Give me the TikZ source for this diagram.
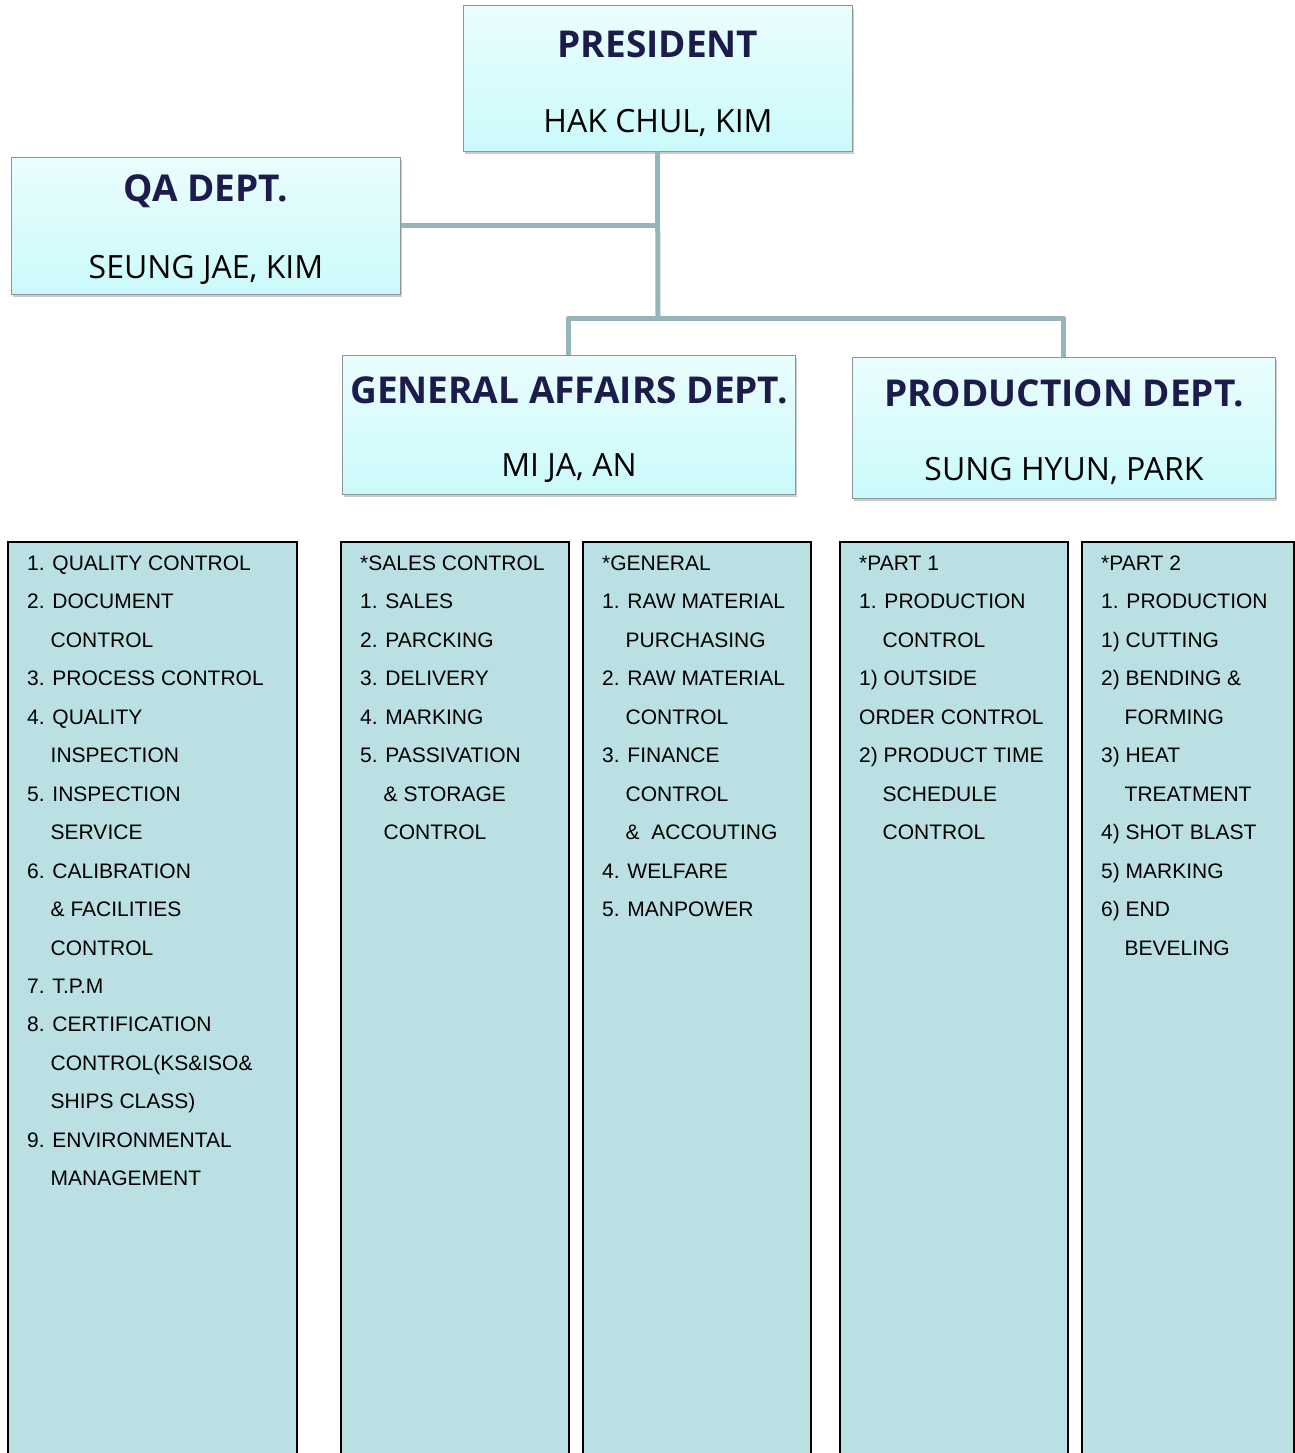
\documentclass[tikz,border=0pt]{standalone}
\usepackage{fontspec}
\setmainfont{Liberation Sans}
\newfontfamily\headfont{Open Sans}
\usetikzlibrary{shadows,calc}

\definecolor{boxtop}{HTML}{EAFDFD}
\definecolor{boxbot}{HTML}{CBFAFB}
\definecolor{boxedge}{HTML}{8A9698}
\definecolor{navy}{HTML}{1C1B4B}
\definecolor{linkcol}{HTML}{94B6B9}
\definecolor{colfill}{HTML}{BAE0E3}

\tikzset{
  x=1pt, y=-1pt,
  headbox/.style={draw=boxedge, line width=1pt, top color=boxtop, bottom color=boxbot,
    inner sep=0pt, drop shadow={shadow xshift=1.5pt, shadow yshift=-3pt, opacity=0.4}},
  title/.style={font=\headfont\bfseries\fontsize{37}{40}\selectfont, text=navy, inner sep=0pt},
  person/.style={font=\headfont\fontsize{32}{36}\selectfont, text=black, inner sep=0pt},
  link/.style={draw=linkcol, line width=5pt},
  column/.style={draw=black, line width=2pt, fill=colfill, anchor=north west, inner sep=0pt},
  item/.style={anchor=base west, inner sep=0pt, font=\fontsize{21}{24}\selectfont}
}

\begin{document}
\begin{tikzpicture}
\useasboundingbox (0,0) rectangle (1295,1453);
\clip (0,0) rectangle (1295,1453);

% management boxes
\node[headbox, minimum width=389pt, minimum height=145pt] (pres) at (657.5,78.5) {};
\node[headbox, minimum width=389pt, minimum height=137pt] (qa)   at (205.5,225.5) {};
\node[headbox, minimum width=453pt, minimum height=139pt] (ga)   at (568.5,424.5) {};
\node[headbox, minimum width=423pt, minimum height=141pt] (pd)   at (1063.5,427.5) {};

\node[title]  (presT) at (658,44)  {PRESIDENT};
\node[person] (presN) at (658,123) {HAK CHUL, KIM};
\node[title]  (qaT)   at (206,191) {QA DEPT.};
\node[person] (qaN)   at (206,270) {SEUNG JAE, KIM};
\node[title]  (gaT)   at (569,390) {GENERAL AFFAIRS DEPT.};
\node[person] (gaN)   at (569,468) {MI JA, AN};
\node[title]  (pdT)   at (1064,393) {PRODUCTION DEPT.};
\node[person] (pdN)   at (1064,471) {SUNG HYUN, PARK};

% reporting lines
\coordinate (j) at (658,318);
\draw[link] (pres.south) -- (j);
\draw[link] (qa.east) -- (qa.east -| pres.south);
\draw[link, line join=round] (ga.north) |- (j) -| (pd.north);

% duty columns
\node[column, minimum width=289pt, minimum height=950pt] (c1) at (7,541) {};
\node[column, minimum width=228pt, minimum height=950pt] (c2) at (340,541) {};
\node[column, minimum width=228pt, minimum height=950pt] (c3) at (582,541) {};
\node[column, minimum width=228pt, minimum height=950pt] (c4) at (839,541) {};
\node[column, minimum width=212pt, minimum height=950pt] (c5) at (1081,541) {};

\def\firstline{570.5}
\def\linestep{38.45}
\def\indent{23.5}

\foreach \d/\t [count=\i from 0] in {
  0/1. QUALITY CONTROL, 0/2. DOCUMENT, 1/CONTROL, 0/3. PROCESS CONTROL,
  0/4. QUALITY, 1/INSPECTION, 0/5. INSPECTION, 1/SERVICE, 0/6. CALIBRATION,
  1/\& FACILITIES, 1/CONTROL, 0/7. T.P.M, 0/8. CERTIFICATION,
  1/CONTROL(KS\&ISO\&, 1/SHIPS CLASS), 0/9. ENVIRONMENTAL, 1/MANAGEMENT}
  \node[item] (a\i) at ($(c1.north west)+(20+\indent*\d,\firstline-541+\linestep*\i)$) {\t};

\foreach \d/\t [count=\i from 0] in {
  0/*SALES CONTROL, 0/1. SALES, 0/2. PARCKING, 0/3. DELIVERY, 0/4. MARKING,
  0/5. PASSIVATION, 1/\& STORAGE, 1/CONTROL}
  \node[item] (b\i) at ($(c2.north west)+(20+\indent*\d,\firstline-541+\linestep*\i)$) {\t};

\foreach \d/\t [count=\i from 0] in {
  0/*GENERAL, 0/1. RAW MATERIAL, 1/PURCHASING, 0/2. RAW MATERIAL, 1/CONTROL,
  0/3. FINANCE, 1/CONTROL, 1/\&\ \ ACCOUTING, 0/4. WELFARE, 0/5. MANPOWER}
  \node[item] (g\i) at ($(c3.north west)+(20+\indent*\d,\firstline-541+\linestep*\i)$) {\t};

\foreach \d/\t [count=\i from 0] in {
  0/*PART 1, 0/1. PRODUCTION, 1/CONTROL, 0/1) OUTSIDE, 0/ORDER CONTROL,
  0/2) PRODUCT TIME, 1/SCHEDULE, 1/CONTROL}
  \node[item] (p\i) at ($(c4.north west)+(20+\indent*\d,\firstline-541+\linestep*\i)$) {\t};

\foreach \d/\t [count=\i from 0] in {
  0/*PART 2, 0/1. PRODUCTION, 0/1) CUTTING, 0/2) BENDING \&, 1/FORMING,
  0/3) HEAT, 1/TREATMENT, 0/4) SHOT BLAST, 0/5) MARKING, 0/6) END, 1/BEVELING}
  \node[item] (q\i) at ($(c5.north west)+(20+\indent*\d,\firstline-541+\linestep*\i)$) {\t};
\end{tikzpicture}
\end{document}
